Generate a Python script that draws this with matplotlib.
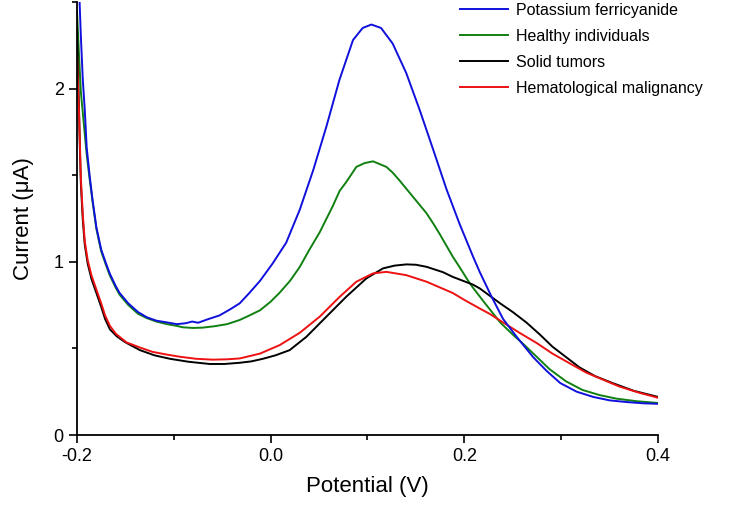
import matplotlib
matplotlib.use('Agg')
import matplotlib.pyplot as plt
from matplotlib.ticker import MultipleLocator

plt.rcParams['font.family'] = ['Liberation Sans', 'DejaVu Sans']

# Potassium ferricyanide
v_ferri = [-0.198, -0.196, -0.194, -0.192, -0.190, -0.187, -0.184, -0.180, -0.175,
           -0.170, -0.166, -0.160, -0.156, -0.147, -0.137, -0.128, -0.118, -0.107,
           -0.097, -0.088, -0.081, -0.075, -0.064, -0.053, -0.042, -0.032, -0.022,
           -0.011, 0.002, 0.016, 0.030, 0.044, 0.0575, 0.071, 0.085, 0.095, 0.104,
           0.114, 0.126, 0.140, 0.154, 0.168, 0.1815, 0.195, 0.209, 0.216, 0.228,
           0.240, 0.255, 0.271, 0.285, 0.299, 0.316, 0.333, 0.350, 0.368, 0.385, 0.40]
i_ferri = [2.60, 2.30, 2.05, 1.88, 1.66, 1.50, 1.36, 1.20, 1.07,
           0.99, 0.93, 0.86, 0.82, 0.76, 0.71, 0.68, 0.66, 0.65,
           0.64, 0.645, 0.655, 0.648, 0.67, 0.69, 0.725, 0.76, 0.82,
           0.89, 0.99, 1.11, 1.30, 1.53, 1.78, 2.05, 2.28, 2.35, 2.37,
           2.35, 2.26, 2.09, 1.875, 1.645, 1.42, 1.22, 1.03, 0.94, 0.80,
           0.67, 0.56, 0.45, 0.37, 0.30, 0.25, 0.22, 0.20, 0.19, 0.183, 0.18]

# Healthy individuals
v_healthy = [-0.200, -0.198, -0.196, -0.193, -0.190, -0.187, -0.184, -0.180, -0.175,
             -0.170, -0.166, -0.160, -0.156, -0.147, -0.137, -0.128, -0.118, -0.107,
             -0.097, -0.091, -0.080, -0.070, -0.058, -0.045, -0.032, -0.022, -0.011,
             0.000, 0.009, 0.020, 0.030, 0.040, 0.0506, 0.064, 0.0713, 0.078, 0.0885,
             0.097, 0.1057, 0.1195, 0.126, 0.133, 0.147, 0.161, 0.168, 0.1746, 0.188,
             0.195, 0.204, 0.209, 0.220, 0.237, 0.250, 0.260, 0.275, 0.288, 0.305,
             0.322, 0.340, 0.357, 0.378, 0.40]
i_healthy = [2.45, 2.20, 1.98, 1.80, 1.62, 1.48, 1.35, 1.19, 1.06,
             0.98, 0.92, 0.85, 0.81, 0.75, 0.70, 0.675, 0.655, 0.64,
             0.63, 0.622, 0.618, 0.62, 0.628, 0.64, 0.664, 0.69, 0.72,
             0.77, 0.82, 0.89, 0.97, 1.07, 1.17, 1.32, 1.41, 1.46, 1.548,
             1.57, 1.58, 1.548, 1.515, 1.47, 1.375, 1.28, 1.22, 1.16, 1.03,
             0.97, 0.89, 0.85, 0.77, 0.65, 0.58, 0.53, 0.45, 0.38, 0.31,
             0.26, 0.23, 0.21, 0.195, 0.185]

# Solid tumors
v_solid = [-0.200, -0.199, -0.198, -0.197, -0.196, -0.194, -0.192, -0.189, -0.185,
           -0.180, -0.175, -0.171, -0.166, -0.159, -0.150, -0.135, -0.120, -0.104,
           -0.085, -0.063, -0.048, -0.032, -0.020, -0.008, 0.005, 0.0196, 0.0369,
           0.0575, 0.078, 0.0988, 0.116, 0.128, 0.140, 0.150, 0.161, 0.178, 0.188,
           0.209, 0.216, 0.237, 0.250, 0.264, 0.278, 0.291, 0.305, 0.319, 0.335,
           0.353, 0.375, 0.40]
i_solid = [2.35, 2.10, 1.90, 1.65, 1.45, 1.24, 1.10, 0.99, 0.90,
           0.82, 0.74, 0.67, 0.61, 0.57, 0.535, 0.49, 0.46, 0.44,
           0.423, 0.41, 0.41, 0.417, 0.425, 0.44, 0.46, 0.49, 0.567,
           0.683, 0.798, 0.904, 0.962, 0.978, 0.985, 0.983, 0.971, 0.94, 0.913,
           0.868, 0.846, 0.76, 0.71, 0.65, 0.58, 0.51, 0.45, 0.39, 0.34,
           0.30, 0.255, 0.22]

# Hematological malignancy
v_hema = [-0.200, -0.199, -0.198, -0.197, -0.196, -0.194, -0.192, -0.189, -0.185,
          -0.180, -0.175, -0.171, -0.166, -0.160, -0.149, -0.135, -0.122, -0.108,
          -0.094, -0.077, -0.060, -0.045, -0.032, -0.011, 0.0093, 0.030, 0.0506,
          0.0713, 0.0885, 0.1057, 0.1195, 0.140, 0.161, 0.188, 0.200, 0.216, 0.226,
          0.240, 0.257, 0.275, 0.291, 0.310, 0.326, 0.343, 0.360, 0.380, 0.40]
i_hema = [2.20, 2.02, 1.88, 1.68, 1.48, 1.27, 1.12, 1.01, 0.92,
          0.84, 0.76, 0.69, 0.63, 0.585, 0.535, 0.505, 0.48, 0.465,
          0.452, 0.44, 0.435, 0.437, 0.442, 0.47, 0.519, 0.59, 0.683,
          0.798, 0.885, 0.933, 0.942, 0.923, 0.885, 0.82, 0.78, 0.73, 0.70,
          0.65, 0.59, 0.53, 0.47, 0.41, 0.36, 0.32, 0.28, 0.245, 0.215]

fig = plt.figure(figsize=(7.33, 5.05), dpi=100)
ax = fig.add_axes([77 / 733, 70 / 505, 581 / 733, 433 / 505])

ax.plot(v_healthy, i_healthy, color='#108010', lw=1.4, label='Healthy individuals')
ax.plot(v_solid, i_solid, color='black', lw=1.4, label='Solid tumors')
ax.plot(v_hema, i_hema, color='#ee1111', lw=1.4, label='Hematological malignancy')
ax.plot(v_ferri, i_ferri, color='#1010dd', lw=1.4, label='Potassium ferricyanide')

ax.set_xlim(-0.2, 0.4)
ax.set_ylim(0, 2.5)
ax.xaxis.set_major_locator(MultipleLocator(0.2))
ax.xaxis.set_minor_locator(MultipleLocator(0.1))
ax.yaxis.set_major_locator(MultipleLocator(1))
ax.yaxis.set_minor_locator(MultipleLocator(0.5))
ax.set_xticklabels([f'{t:.1f}' for t in ax.get_xticks()])
ax.tick_params(which='major', direction='out', length=6, width=1.2, labelsize=13)
ax.tick_params(which='minor', direction='out', length=3.5, width=1.2)
for s in ('top', 'right'):
    ax.spines[s].set_visible(False)
for s in ('left', 'bottom'):
    ax.spines[s].set_linewidth(1.3)

ax.set_xlabel('Potential (V)', fontsize=16, labelpad=8)
ax.set_ylabel('Current (μA)', fontsize=16, labelpad=14)

h, l = ax.get_legend_handles_labels()
order = [3, 0, 1, 2]
ax.legend([h[k] for k in order], [l[k] for k in order], loc='upper left',
          bbox_to_anchor=(460 / 733, 502 / 505), bbox_transform=fig.transFigure,
          frameon=False, fontsize=11.5, handlelength=3.0, handletextpad=0.5,
          labelspacing=0.68, borderpad=0, borderaxespad=0)

fig.savefig('out.png', dpi=100)
